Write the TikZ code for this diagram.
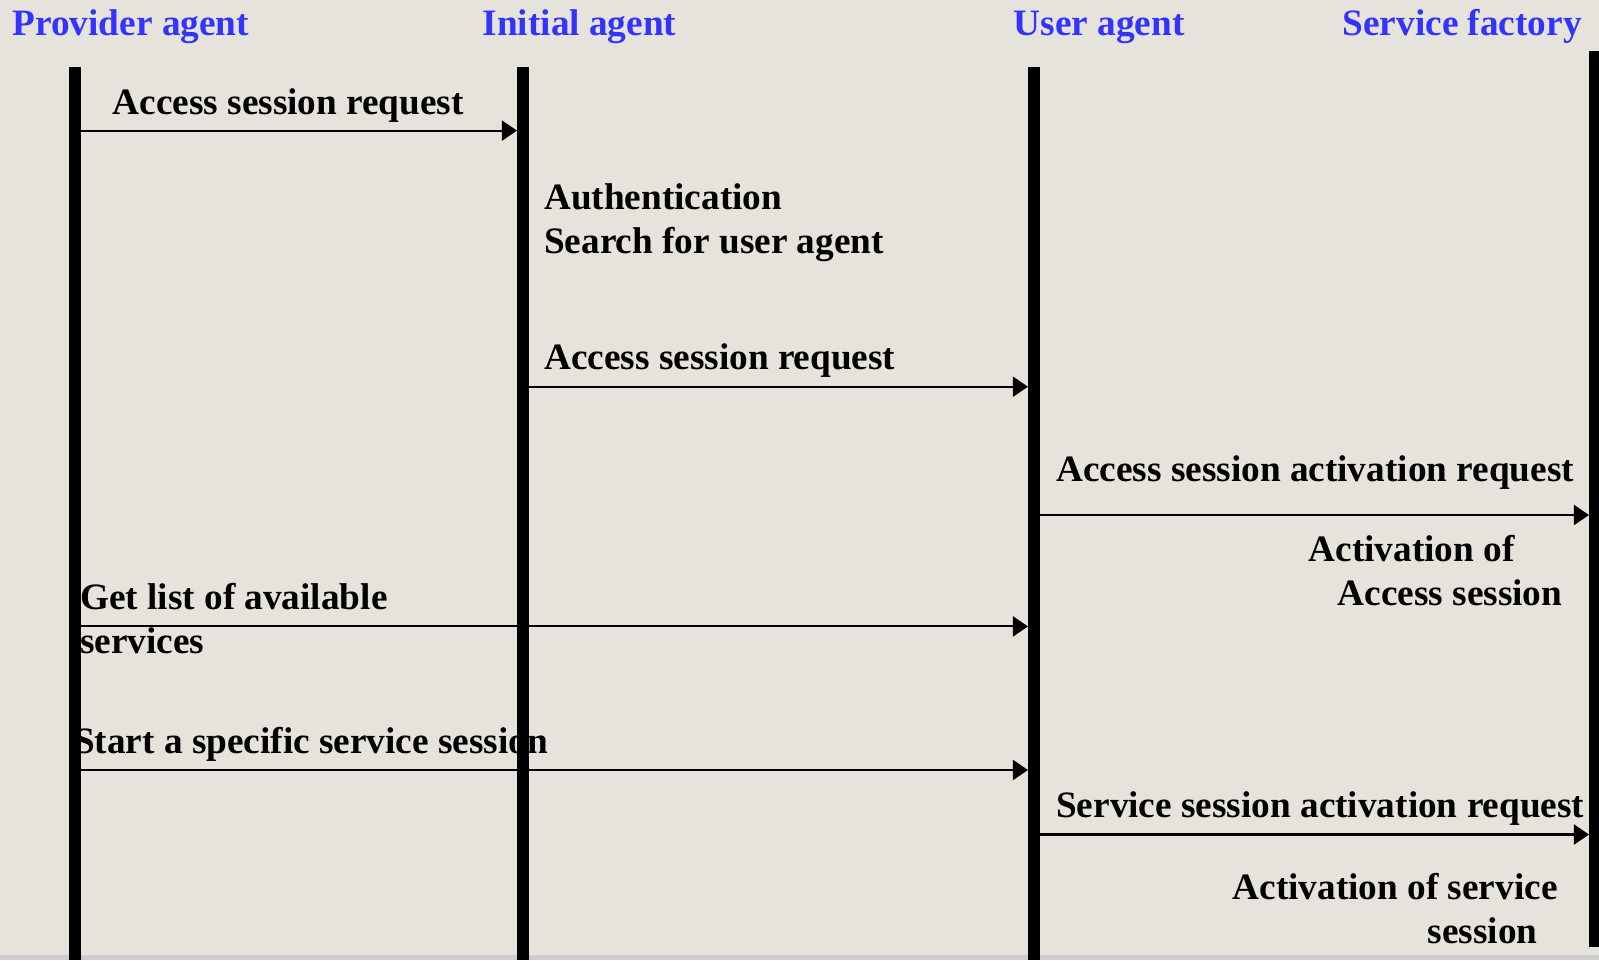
\documentclass[tikz,border=0pt]{standalone}
\usepackage{fontspec}
\setmainfont{Liberation Serif}
\usetikzlibrary{arrows.meta}
\definecolor{bgcol}{RGB}{230,227,220}
\definecolor{headblue}{RGB}{51,51,255}
\definecolor{bandgray}{RGB}{204,204,204}
\begin{document}
\begin{tikzpicture}[
  head/.style={anchor=base west, inner sep=0pt, text=headblue, font=\fontsize{10.6pt}{12.6pt}\selectfont\bfseries},
  lbl/.style={anchor=base west, inner sep=0pt, align=left, font=\fontsize{10.6pt}{12.4pt}\selectfont\bfseries},
  msg/.style={-{Triangle[length=4.3pt,width=5.7pt]}, line width=0.6pt},
  life/.style={line width=3.4pt}]
%\draw [dashed] (0,0) grid (16,-10);
\useasboundingbox (0,0) rectangle (15.99,-9.60);
\fill [bgcol] (0,0) rectangle (15.99,-9.60);
\fill [bandgray] (0,-9.545) rectangle (15.99,-9.60);

% Agents
\node (pa) [head] at ( 0.12,-0.35) {Provider agent};
\node (ia) [head] at ( 4.82,-0.35) {Initial agent};
\node (ua) [head] at (10.13,-0.35) {User agent};
\node (sf) [head] at (13.42,-0.35) {Service factory};

% Lifelines
\coordinate (pat) at ( 0.75,-0.667);
\coordinate (pab) at ( 0.75,-9.60);
\coordinate (iat) at ( 5.23,-0.667);
\coordinate (iab) at ( 5.23,-9.60);
\coordinate (uat) at (10.34,-0.667);
\coordinate (uab) at (10.34,-9.60);
\coordinate (sft) at (15.95,-0.51);
\coordinate (sfb) at (15.95,-9.47);

% Message ends
\coordinate (m1s) at ( 0.75,-1.306);
\coordinate (m1e) at ( 5.17,-1.306);
\coordinate (m2s) at ( 5.23,-3.867);
\coordinate (m2e) at (10.28,-3.867);
\coordinate (m3s) at (10.34,-5.15);
\coordinate (m3e) at (15.89,-5.15);
\coordinate (m4s) at ( 0.75,-6.264);
\coordinate (m4e) at (10.28,-6.264);
\coordinate (m5s) at ( 0.75,-7.70);
\coordinate (m5e) at (10.28,-7.70);
\coordinate (m6s) at (10.34,-8.345);
\coordinate (m6e) at (15.89,-8.345);

% Labels (multi-line ones sit on their last line)
\node (l1) [lbl] at ( 1.12,-1.14) {Access session request};
\node (l2) [lbl] at ( 5.435,-2.53) {Authentication\\Search for user agent};
\node (l3) [lbl] at ( 5.435,-3.69) {Access session request};
\node (l4) [lbl] at (10.555,-4.815) {Access session activation request};
\node (l5) [lbl] at (13.08,-6.05) {Activation of\\\hspace*{0.29cm}Access session};
\node (l6) [lbl] at ( 0.795,-6.53) {Get list of available\\services};
\node (l7) [lbl] at ( 0.734,-7.53) {Start a specific service session};
\node (l8) [lbl] at (10.555,-8.17) {Service session activation request};
\node (l9) [lbl] at (12.32,-9.43) {Activation of service\\\hspace*{1.95cm}session};

% Messages
\draw [msg] (m1s) -- (m1e);
\draw [msg] (m2s) -- (m2e);
\draw [msg] (m3s) -- (m3e);
\draw [msg] (m4s) -- (m4e);
\draw [msg] (m5s) -- (m5e);
\draw [msg] (m6s) -- (m6e);

% Lifelines on top
\draw [life] (pat) -- (pab);
\draw [life] (iat) -- (iab);
\draw [life] (uat) -- (uab);
\draw [life] (sft) -- (sfb);

\end{tikzpicture}
\end{document}
